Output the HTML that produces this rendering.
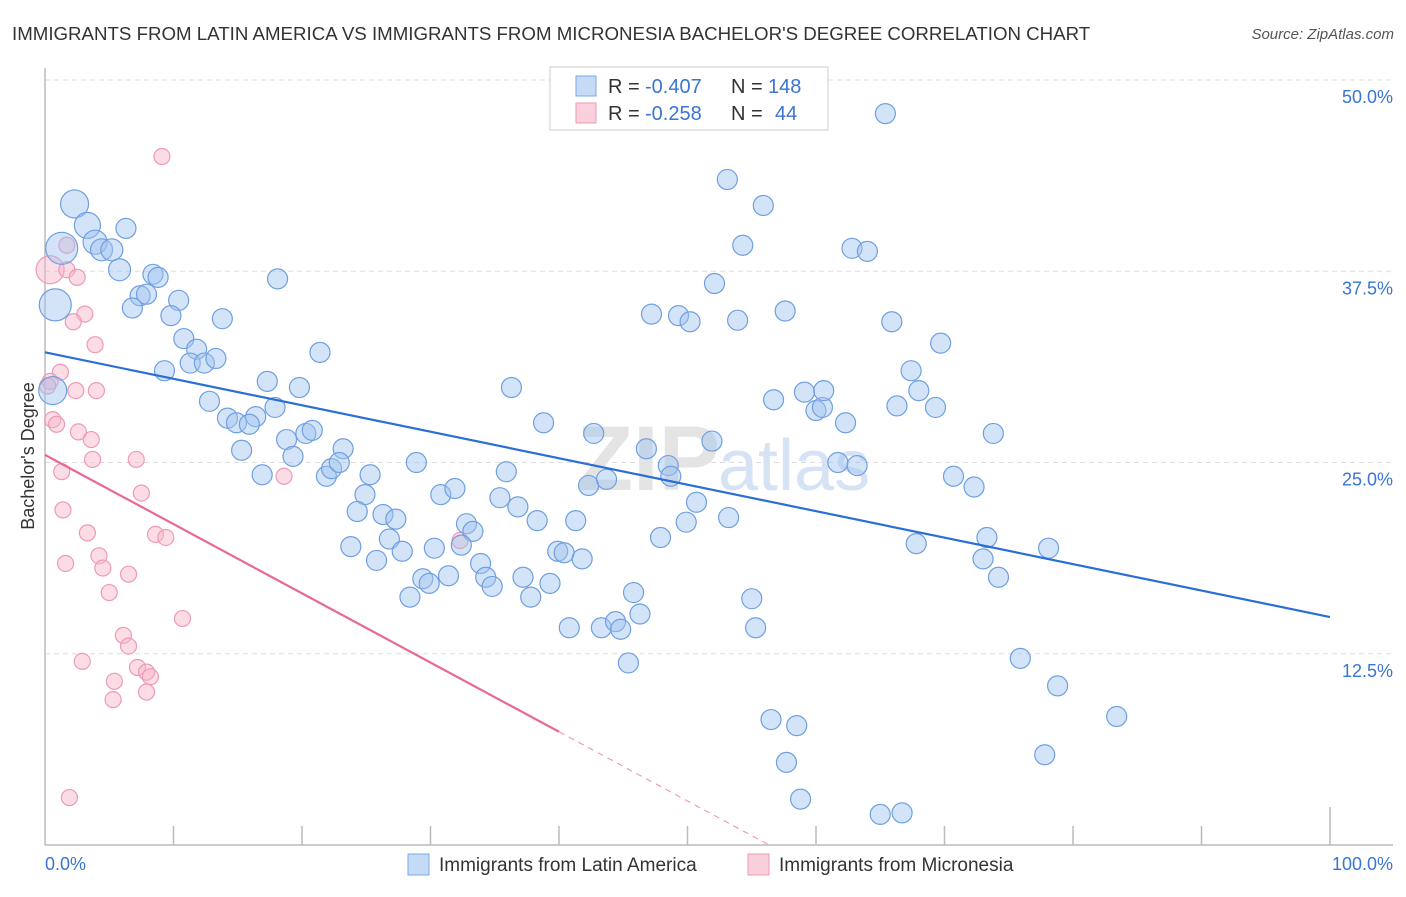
<!DOCTYPE html>
<html><head><meta charset="utf-8"><style>
body{margin:0;background:#fff;font-family:"Liberation Sans",sans-serif;}
svg text{font-family:"Liberation Sans",sans-serif;}
</style></head><body>
<svg id="c" width="1406" height="892" viewBox="0 0 1406 892" xmlns="http://www.w3.org/2000/svg">
<text x="12" y="40" font-size="18.7" fill="#333">IMMIGRANTS FROM LATIN AMERICA VS IMMIGRANTS FROM MICRONESIA BACHELOR'S DEGREE CORRELATION CHART</text>
<text x="1394" y="39" font-size="15" fill="#555" font-style="italic" text-anchor="end">Source: ZipAtlas.com</text>
<g id="grid"></g>
<text x="720" y="490" font-size="92" fill="#e4e4e4" text-anchor="end" font-family="Liberation Serif" font-weight="bold">ZIP</text>
<text x="718" y="490" font-size="72" fill="#d5e3f5">atlas</text>
<g id="axes"></g>
<g id="pts"></g>
<g id="lines"></g>
<text transform="translate(34,456) rotate(-90)" font-size="18" fill="#333" text-anchor="middle">Bachelor's Degree</text>
<text x="45" y="870" font-size="18" fill="#3a75d0">0.0%</text>
<text x="1393" y="870" font-size="18" fill="#3a75d0" text-anchor="end">100.0%</text>
<g>
<rect x="550" y="67" width="278" height="63" fill="#fff" stroke="#ccc"/>
<rect x="576" y="76" width="20" height="20" fill="#c5daf5" stroke="#7aaae6"/>
<rect x="576" y="103" width="20" height="20" fill="#fbd0dd" stroke="#ee9ab4"/>
<g font-size="20">
<text x="608" y="93" fill="#333">R =</text><text x="645" y="93" fill="#3a75d0">-0.407</text>
<text x="731" y="93" fill="#333">N =</text><text x="768" y="93" fill="#3a75d0">148</text></g>
<g font-size="20">
<text x="608" y="120" fill="#333">R =</text><text x="645" y="120" fill="#3a75d0">-0.258</text>
<text x="731" y="120" fill="#333">N =</text><text x="775" y="120" fill="#3a75d0">44</text></g>
</g>
<g>
<rect x="408" y="854" width="21" height="21" fill="#c5daf5" stroke="#7aaae6"/>
<text x="439" y="871" font-size="19" fill="#333">Immigrants from Latin America</text>
<rect x="748" y="854" width="21" height="21" fill="#fbd0dd" stroke="#ee9ab4"/>
<text x="779" y="871" font-size="19" fill="#333">Immigrants from Micronesia</text>
</g>
</svg>
<script>
const yTicks=[12.5,25,37.5,50];
const yTickLabels=["12.5%","25.0%","37.5%","50.0%"];
const xTicks=[10,20,30,40,50,60,70,80,90,100];
const blueX=[2.3,3.3,1.3,0.8,0.6,3.9,4.4,5.2,6.3,5.8,8.4,8.8,7.4,7.9,6.8,10.4,9.8,13.8,18.1,10.8,11.8,11.3,12.4,13.3,9.3,21.4,12.8,17.3,19.8,17.9,14.2,14.9,16.4,15.9,18.8,20.3,20.8,15.3,19.3,23.2,16.9,21.9,22.3,22.9,25.3,24.9,28.9,24.3,26.3,27.3,26.8,27.8,23.8,25.8,30.8,31.9,36.3,38.8,35.9,35.4,36.8,32.8,33.3,32.4,30.3,33.9,29.4,29.9,31.4,34.3,34.8,28.4,37.2,37.8,39.3,38.3,39.9,40.4,41.3,41.8,42.3,42.7,43.7,40.8,43.3,44.4,44.8,46.3,45.8,45.4,46.8,47.9,48.5,48.7,49.9,50.7,51.9,53.2,47.2,49.3,50.2,52.1,53.9,54.3,53.1,55.9,57.6,56.7,59.1,60.0,60.5,60.6,62.3,61.7,63.2,62.8,64.0,65.4,65.9,66.3,67.4,68.0,69.3,69.7,70.7,72.3,73.8,67.8,73.0,73.3,74.2,78.1,55.0,55.3,56.5,58.5,57.7,58.8,65.0,66.7,75.9,78.8,77.8,83.4];
const blueY=[41.9,40.5,39.0,35.3,29.7,39.4,38.9,38.9,40.3,37.6,37.3,37.1,35.9,36.0,35.1,35.6,34.6,34.4,37.0,33.1,32.4,31.5,31.5,31.8,31.0,32.2,29.0,30.3,29.9,28.6,27.9,27.6,28.0,27.5,26.5,26.9,27.1,25.8,25.4,25.9,24.2,24.1,24.6,25.0,24.2,22.9,25.0,21.8,21.6,21.3,20.0,19.2,19.5,18.6,22.9,23.3,29.9,27.6,24.4,22.7,22.1,21.0,20.5,19.6,19.4,18.4,17.4,17.1,17.6,17.5,16.9,16.2,17.5,16.2,17.1,21.2,19.2,19.1,21.2,18.7,23.5,26.9,23.9,14.2,14.2,14.6,14.1,15.1,16.5,11.9,25.9,20.1,24.8,24.1,21.1,22.4,26.4,21.4,34.7,34.6,34.2,36.7,34.3,39.2,43.5,41.8,34.9,29.1,29.6,28.4,28.6,29.7,27.6,25.0,24.8,39.0,38.8,47.8,34.2,28.7,31.0,29.7,28.6,32.8,24.1,23.4,26.9,19.7,18.7,20.1,17.5,19.4,16.1,14.2,8.2,7.8,5.4,3.0,2.0,2.1,12.2,10.4,5.9,8.4];
const blueR=[14,13,16,16,14,12,11,11,10,11,10,10,10,10,10];
const pinkX=[9.1,0.4,1.7,1.7,2.5,3.1,2.2,3.9,1.2,0.4,0.2,2.4,4.0,0.6,0.9,2.6,3.6,3.7,7.1,1.3,18.6,7.5,1.4,3.3,8.6,9.4,32.3,4.2,1.6,4.5,6.5,5.0,10.7,6.1,6.5,2.9,7.2,7.9,8.2,5.4,7.9,5.3,1.9];
const pinkY=[45.0,37.6,39.2,37.6,37.1,34.7,34.2,32.7,30.9,30.3,30.0,29.7,29.7,27.8,27.5,27.0,26.5,25.2,25.2,24.4,24.1,23.0,21.9,20.4,20.3,20.1,19.9,18.9,18.4,18.1,17.7,16.5,14.8,13.7,13.0,12.0,11.6,11.3,11.0,10.7,10.0,9.5,3.1];
const pinkR=[8,14];
const blueTrend=[32.2,14.9];
const pinkTrend=[25.5,-0.4525];
const NS="http://www.w3.org/2000/svg";
const X=v=>45+v*12.85, Y=v=>845-v*15.3;
function mk(t,a,p){const e=document.createElementNS(NS,t);for(const k in a)e.setAttribute(k,a[k]);p.appendChild(e);return e;}
const grid=document.getElementById('grid'),axes=document.getElementById('axes'),pts=document.getElementById('pts'),lines=document.getElementById('lines'),svg=document.getElementById('c');
yTicks.forEach((t,i)=>{
 const l=mk('line',{x1:45,x2:1393,y1:Y(t),y2:Y(t),stroke:'#ddd','stroke-dasharray':'5,4'},grid);
 
 
 const tx=mk('text',{x:1393,y:Y(t)+23,'font-size':18,fill:'#3a75d0','text-anchor':'end'},svg);
 tx.textContent=yTickLabels[i];
 
 
});
const ax=mk('line',{x1:45,x2:1393,y1:845,y2:845,stroke:'#bbb','stroke-width':1.5},axes);


const ay=mk('line',{x1:45,x2:45,y1:68,y2:845,stroke:'#bbb','stroke-width':1.5},axes);


xTicks.forEach(t=>{
 const l=mk('line',{x1:X(t),x2:X(t),y1:t===100?807:826,y2:845,stroke:'#bbb','stroke-width':1.5},axes);
 
 
});
pinkX.forEach((x,i)=>{
 const c=mk('circle',{cx:X(x),cy:Y(pinkY[i]),r:pinkR[i]||8,fill:'rgba(248,180,200,0.45)',stroke:'#ee9ab4','stroke-width':1.2},pts);
 
 
});
blueX.forEach((x,i)=>{
 const c=mk('circle',{cx:X(x),cy:Y(blueY[i]),r:blueR[i]||10,fill:'rgba(160,195,240,0.45)',stroke:'#6f9fe0','stroke-width':1.2},pts);
 
 
});
const bl=mk('line',{x1:X(0),y1:Y(blueTrend[0]),x2:X(100),y2:Y(blueTrend[1]),stroke:'#2a6fd6','stroke-width':2.2},lines);


const pv=x=>pinkTrend[0]+pinkTrend[1]*x;
const pl=mk('line',{x1:X(0),y1:Y(pv(0)),x2:X(40),y2:Y(pv(40)),stroke:'#e8689a','stroke-width':2.2},lines);


const xe=-pinkTrend[0]/pinkTrend[1];
const pd=mk('line',{x1:X(40),y1:Y(pv(40)),x2:X(xe),y2:Y(0),stroke:'#e8a0b8','stroke-width':1.2,'stroke-dasharray':'6,5'},lines);


</script>
</body></html>
